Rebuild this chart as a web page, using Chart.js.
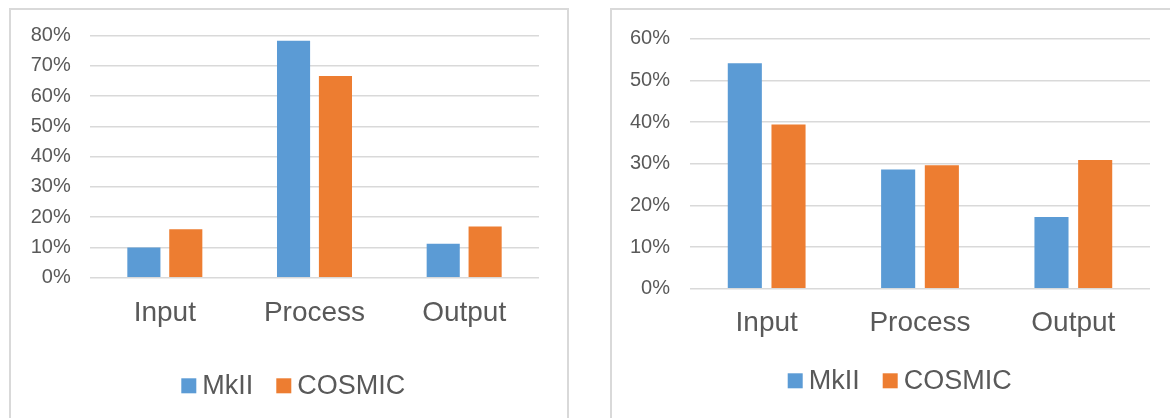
<!DOCTYPE html>
<html>
<head>
<meta charset="utf-8">
<script src="https://cdn.jsdelivr.net/npm/chart.js@4/dist/chart.umd.min.js"></script>
<style>
  html, body { margin: 0; padding: 0; background: #ffffff; overflow: hidden; width: 1170px; height: 418px; }
  .frame { position: absolute; border: 2px solid #d9d9d9; background: #ffffff; overflow: hidden; }
  #frameA { left: 9px; top: 8px; width: 556px; height: 420px; }
  #frameB { left: 610px; top: 8px; width: 600px; height: 420px; }
  canvas { position: absolute; left: 0; top: 0; }
</style>
</head>
<body>
<div class="frame" id="frameA"><canvas id="chartA" width="556" height="408" style="width:556px;height:408px"></canvas></div>
<div class="frame" id="frameB"><canvas id="chartB" width="576" height="408" style="width:576px;height:408px"></canvas></div>
<script>
// Categories and series
const categories = ['Input', 'Process', 'Output'];
const seriesNames = ['MkII', 'COSMIC'];

// Left chart: share per category (%)
const mk2SharesA = [10.0, 78.3, 11.2];
const cosmicSharesA = [16.0, 66.7, 16.9];

// Right chart: share per category (%)
const mk2SharesB = [54.1, 28.6, 17.2];
const cosmicSharesB = [39.4, 29.6, 30.9];

// Value axis ranges (%)
const axisMaxA = 80;
const axisMaxB = 60;
const axisStep = 10;

const FONT = "'Liberation Sans', Arial, sans-serif";
const TEXT = '#595959';
const BLUE = '#5B9BD5';
const ORANGE = '#ED7D31';
const GRID = '#d9d9d9';

// Legend drawn as one centred row: square swatch, short gap, label
const rowLegend = {
  id: 'rowLegend',
  afterDraw(chart, args, o) {
    const ctx = chart.ctx;
    ctx.save();
    ctx.font = o.size + 'px ' + FONT;
    ctx.textBaseline = 'alphabetic';
    ctx.textAlign = 'left';
    const items = chart.data.datasets.map(ds => ({
      label: ds.label,
      color: ds.backgroundColor,
      w: ctx.measureText(ds.label).width
    }));
    const total = items.reduce((s, it) => s + o.box + o.gap + it.w, 0) + o.spacing * (items.length - 1);
    let x = o.cx - total / 2;
    items.forEach(it => {
      ctx.fillStyle = it.color;
      ctx.fillRect(x, o.baseline - 16, o.box, o.box);
      x += o.box + o.gap;
      ctx.fillStyle = TEXT;
      ctx.fillText(it.label, x, o.baseline);
      x += it.w + o.spacing;
    });
    ctx.restore();
  }
};

function makeChart(id, mk2, cosmic, axisMax, geo) {
  return new Chart(document.getElementById(id), {
    type: 'bar',
    data: {
      labels: categories,
      datasets: [
        { label: seriesNames[0], data: mk2, backgroundColor: BLUE, borderWidth: 0,
          categoryPercentage: geo.catPct, barPercentage: geo.barPct },
        { label: seriesNames[1], data: cosmic, backgroundColor: ORANGE, borderWidth: 0,
          categoryPercentage: geo.catPct, barPercentage: geo.barPct }
      ]
    },
    options: {
      responsive: false,
      animation: false,
      devicePixelRatio: 1,
      layout: { padding: { top: geo.top, right: geo.right, left: 0, bottom: 0 } },
      plugins: {
        legend: { display: false },
        tooltip: { enabled: false },
        rowLegend: { size: 27, box: 15, gap: 6, spacing: 23, cx: geo.legendX, baseline: geo.legendBase }
      },
      scales: {
        x: {
          grid: { display: false, drawTicks: false },
          border: { display: false },
          ticks: { font: { family: FONT, size: 28 }, color: TEXT, padding: geo.xPad, maxRotation: 0 },
          afterFit: s => { s.height = geo.xHeight; }
        },
        y: {
          min: 0,
          max: axisMax,
          grid: { color: GRID, lineWidth: 1.5, drawTicks: false },
          border: { display: false },
          ticks: {
            stepSize: axisStep,
            font: { family: FONT, size: 20 },
            color: TEXT,
            padding: geo.yPad,
            callback: v => v + '%'
          },
          afterFit: s => {
            s.width = geo.yWidth;
            // the plot top/bottom are set by the layout padding and x-axis height
            s.paddingTop = 0;
            s.paddingBottom = 0;
          }
        }
      }
    },
    plugins: [rowLegend]
  });
}

makeChart('chartA', mk2SharesA, cosmicSharesA, axisMaxA, {
  top: 25.7, right: 28, yWidth: 79, yPad: 19.3, xHeight: 140.3, xPad: 19,
  catPct: 0.56, barPct: 0.79, legendX: 282.3, legendBase: 384.3
});

makeChart('chartB', mk2SharesB, cosmicSharesB, axisMaxB, {
  top: 28.7, right: 38, yWidth: 78, yPad: 20, xHeight: 129.3, xPad: 18,
  catPct: 0.57, barPct: 0.78, legendX: 287.7, legendBase: 379.3
});
</script>
</body>
</html>
